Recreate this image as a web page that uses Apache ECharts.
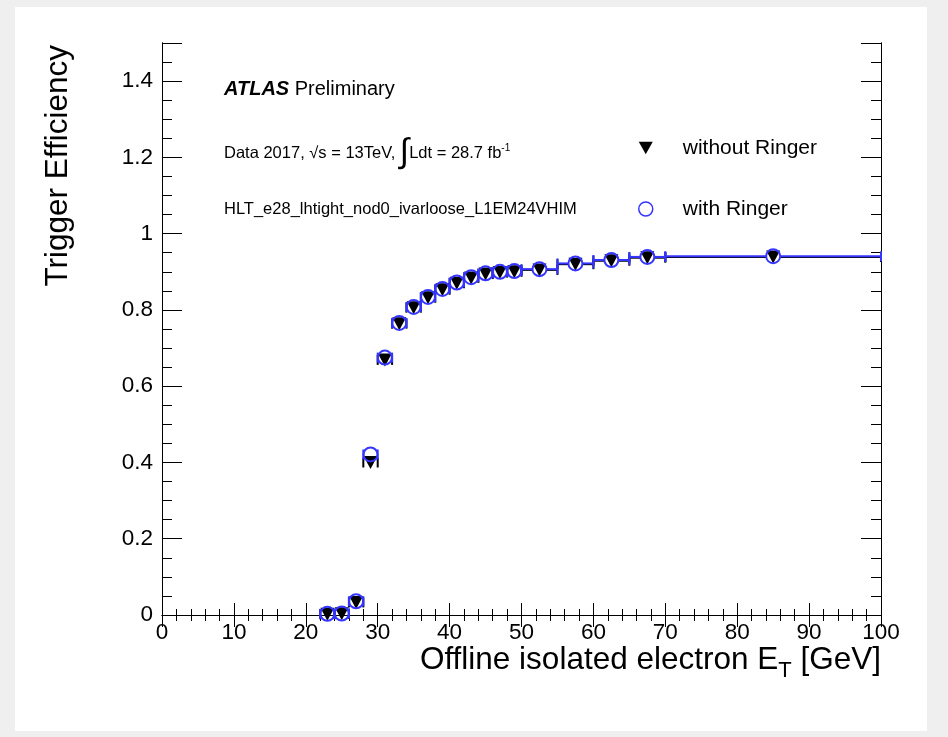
<!DOCTYPE html>
<html>
<head>
<meta charset="utf-8">
<script src="https://cdn.jsdelivr.net/npm/echarts@6.0.0/dist/echarts.min.js"></script>
<style>
  body { margin: 0; background: #efefef; }
  #panel { position: absolute; left: 15px; top: 7px; width: 912px; height: 724px; background: #fff; }
  #chart { position: absolute; left: 0; top: 0; width: 948px; height: 737px; }
</style>
</head>
<body>
<div id="panel"></div>
<div id="chart"></div>
<script>
// bin centres and half widths in GeV
const binCenters = [23, 25, 27, 29, 31, 33, 35, 37, 39, 41, 43, 45, 47, 49, 52.5, 57.5, 62.5, 67.5, 85]
const binHalfWidths = [1, 1, 1, 1, 1, 1, 1, 1, 1, 1, 1, 1, 1, 1, 2.5, 2.5, 2.5, 2.5, 15]
// efficiencies
const effWithout = [0.002, 0.003, 0.033, 0.400, 0.669, 0.764, 0.806, 0.832, 0.853, 0.870, 0.884, 0.894, 0.898, 0.900, 0.905, 0.920, 0.929, 0.937, 0.939]
const effWith = [0.003, 0.004, 0.036, 0.421, 0.675, 0.766, 0.808, 0.834, 0.855, 0.872, 0.886, 0.896, 0.900, 0.902, 0.907, 0.922, 0.931, 0.939, 0.941]

const FONT = "'Liberation Sans', Arial, Helvetica, sans-serif"
const blue = '#3535ff'
const triangleDown = 'path://M0,0L2,0L1,1.8Z'

const chart = echarts.init(document.getElementById('chart'))

// horizontal error bars with end caps, gap left for the marker
const errorBars = (color) => (params, api) => {
  const x = api.value(0)
  const y = api.value(1)
  const hw = api.value(2)
  const c = api.coord([x, y])
  const l = api.coord([x - hw, y])
  const r = api.coord([x + hw, y])
  const gap = 7
  const cap = 5
  const style = { stroke: color, lineWidth: 2 }
  const children = []
  if (c[0] - gap > l[0]) {
    children.push({ type: 'line', shape: { x1: l[0], y1: c[1], x2: c[0] - gap, y2: c[1] }, style })
    children.push({ type: 'line', shape: { x1: c[0] + gap, y1: c[1], x2: r[0], y2: c[1] }, style })
  }
  children.push({ type: 'line', shape: { x1: l[0], y1: c[1] - cap, x2: l[0], y2: c[1] + cap }, style })
  children.push({ type: 'line', shape: { x1: r[0], y1: c[1] - cap, x2: r[0], y2: c[1] + cap }, style })
  return { type: 'group', children }
}

const axisLineStyle = { show: true, lineStyle: { color: '#000', width: 1 } }

const xAxisBase = {
  type: 'value',
  min: 0,
  max: 100,
  interval: 10,
  axisLine: axisLineStyle,
  axisTick: { show: true, inside: true, length: 12, lineStyle: { color: '#000' } },
  minorTick: { show: true, splitNumber: 5, length: 6, lineStyle: { color: '#000' } },
  splitLine: { show: false },
}

const yMinor = (position) => ({
  type: 'value',
  position,
  min: 0,
  max: 1.5,
  interval: 0.05,
  axisLine: axisLineStyle,
  axisTick: { show: true, inside: true, length: 10, lineStyle: { color: '#000' } },
  axisLabel: { show: false },
  splitLine: { show: false },
})

const yMajor = (position, showLabel) => ({
  type: 'value',
  position,
  min: 0,
  max: 1.5,
  interval: 0.2,
  axisLine: axisLineStyle,
  axisTick: { show: true, inside: true, length: 20, lineStyle: { color: '#000' } },
  axisLabel: {
    show: showLabel,
    margin: 9,
    fontFamily: FONT,
    fontSize: 22.5,
    color: '#000',
    formatter: (v) => (v > 1.45 ? '' : String(Math.round(v * 10) / 10)),
  },
  splitLine: { show: false },
})

const option = {
  animation: false,
  grid: { left: 162, right: 67, top: 43, bottom: 122, show: false },
  xAxis: [
    {
      ...xAxisBase,
      position: 'bottom',
      axisLabel: { margin: 6, fontFamily: FONT, fontSize: 22.5, color: '#000' },
    },
    { ...xAxisBase, position: 'top', axisLabel: { show: false } },
  ],
  yAxis: [yMinor('left'), yMajor('left', true), yMinor('right'), yMajor('right', false)],
  legend: {
    orient: 'vertical',
    left: 633,
    top: 131,
    itemGap: 37,
    itemWidth: 14,
    itemHeight: 14,
    selectedMode: false,
    textStyle: { fontFamily: FONT, fontSize: 21, color: '#000', lineHeight: 24, padding: [0, 0, 0, 25] },
    data: [
      { name: 'without Ringer', icon: triangleDown, itemStyle: { color: '#000' } },
      { name: 'with Ringer', icon: 'circle', itemStyle: { color: 'rgba(0,0,0,0)', borderColor: blue, borderWidth: 1.5 } },
    ],
  },
  graphic: [
    {
      type: 'text',
      x: 58,
      y: 45,
      rotation: Math.PI / 2,
      style: {
        text: 'Trigger Efficiency',
        font: '31.5px ' + FONT,
        fill: '#000',
        textAlign: 'right',
        align: 'right',
        textVerticalAlign: 'middle',
        verticalAlign: 'middle',
      },
    },
    {
      type: 'text',
      x: 881,
      y: 660,
      style: {
        text: 'Offline isolated electron E{sub|T} [GeV]',
        font: '31.5px ' + FONT,
        fill: '#000',
        textAlign: 'right',
        align: 'right',
        textVerticalAlign: 'middle',
        verticalAlign: 'middle',
        rich: {
          sub: { fontSize: 22, fontFamily: FONT, fill: '#000', verticalAlign: 'bottom', padding: [22, 0, 0, 0] },
        },
      },
    },
    {
      type: 'text',
      x: 224,
      y: 89,
      style: {
        text: '{b|ATLAS} Preliminary',
        font: '20px ' + FONT,
        fill: '#000',
        textVerticalAlign: 'middle',
        verticalAlign: 'middle',
        rich: {
          b: { fontSize: 20, fontFamily: FONT, fontWeight: 'bold', fontStyle: 'italic', fill: '#000' },
        },
      },
    },
    {
      type: 'text',
      x: 224,
      y: 153,
      style: {
        text: 'Data 2017, √s = 13TeV, {int|∫}Ldt = 28.7 fb{sup|-1}',
        font: '16.5px ' + FONT,
        fill: '#000',
        textVerticalAlign: 'middle',
        verticalAlign: 'middle',
        rich: {
          int: { fontSize: 34, fontFamily: FONT, fill: '#000' },
          sup: { fontSize: 10, fontFamily: FONT, fill: '#000', padding: [0, 0, 10, 0] },
        },
      },
    },
    {
      type: 'text',
      x: 224,
      y: 209,
      style: {
        text: 'HLT_e28_lhtight_nod0_ivarloose_L1EM24VHIM',
        font: '16.5px ' + FONT,
        fill: '#000',
        textVerticalAlign: 'middle',
        verticalAlign: 'middle',
      },
    },
  ],
  series: [
    {
      name: 'err without',
      type: 'custom',
      renderItem: errorBars('#000'),
      data: binCenters.map((x, i) => [x, effWithout[i], binHalfWidths[i]]),
      z: 2,
    },
    {
      name: 'without Ringer',
      type: 'scatter',
      symbol: triangleDown,
      symbolSize: [14, 13],
      itemStyle: { color: '#000', opacity: 1 },
      data: binCenters.map((x, i) => [x, effWithout[i]]),
      z: 3,
    },
    {
      name: 'err with',
      type: 'custom',
      renderItem: errorBars(blue),
      data: binCenters.map((x, i) => [x, effWith[i], binHalfWidths[i]]),
      z: 4,
    },
    {
      name: 'with Ringer',
      type: 'scatter',
      symbol: 'circle',
      symbolSize: 14,
      itemStyle: { color: 'rgba(0,0,0,0)', borderColor: blue, borderWidth: 2, opacity: 1 },
      data: binCenters.map((x, i) => [x, effWith[i]]),
      z: 5,
    },
  ],
}

chart.setOption(option)
</script>
</body>
</html>
